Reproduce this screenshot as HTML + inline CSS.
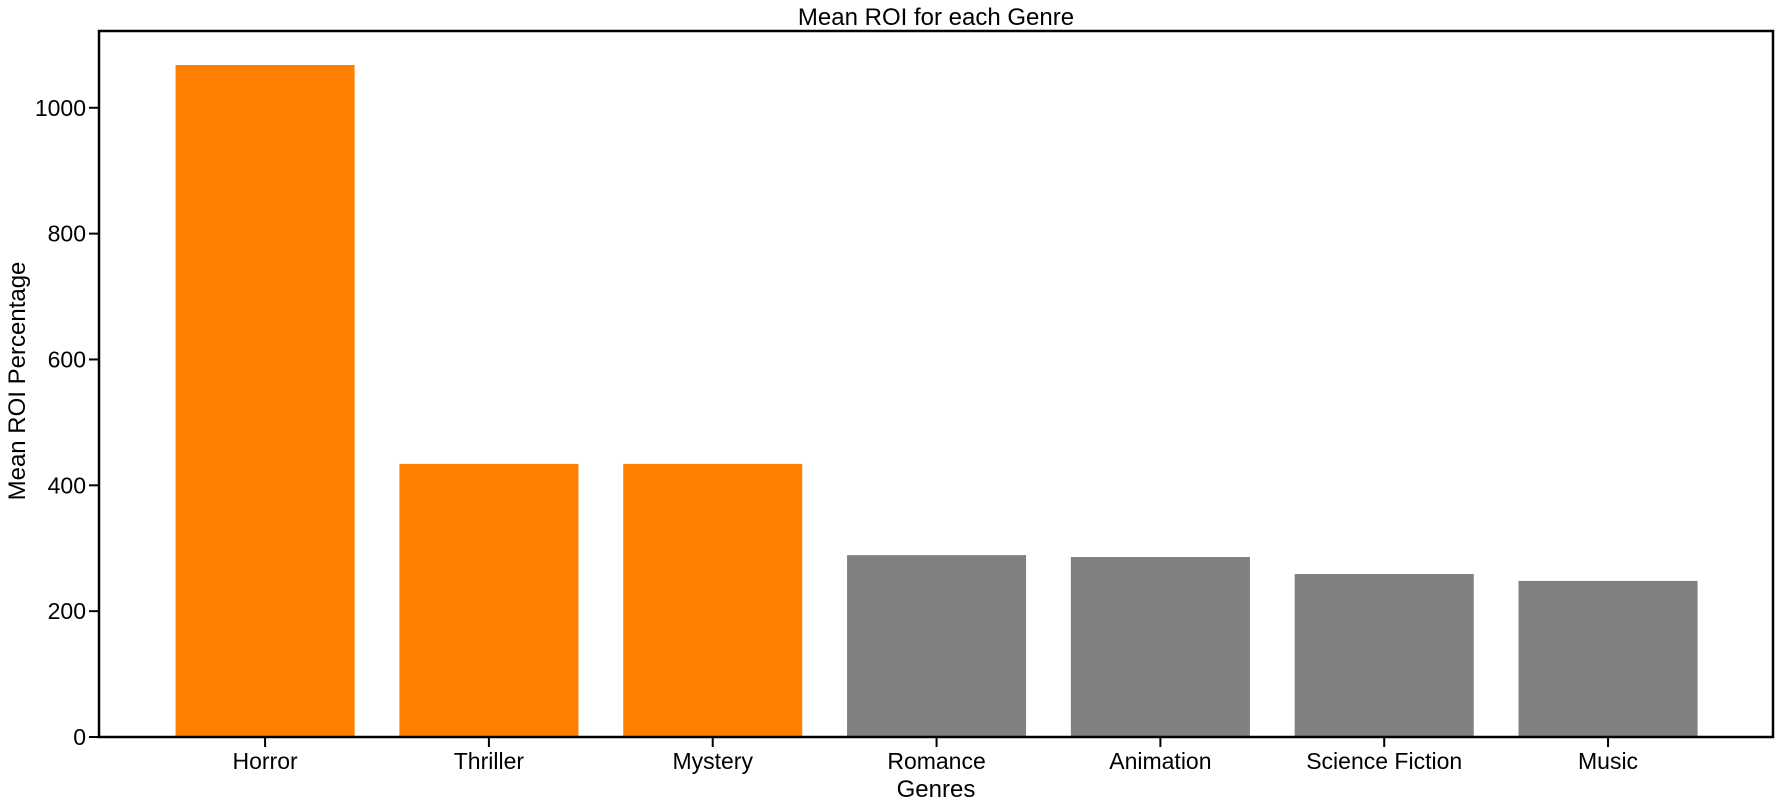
<!DOCTYPE html>
<html><head><meta charset="utf-8"><style>
html,body{margin:0;padding:0;background:#fff;}
svg{display:block;font-family:"Liberation Sans",Arial,sans-serif;}
</style></head><body>
<svg id="chart" width="1779" height="807" viewBox="0 0 1779 807">
<g id="bars"></g>
<g id="axes"></g>
</svg>
<script>
const categories = ["Horror","Thriller","Mystery","Romance","Animation","Science Fiction","Music"];
const values = [1068, 434, 434, 289, 286, 259, 248];
const highlighted = [true, true, true, false, false, false, false];
const yTicks = [0, 200, 400, 600, 800, 1000];

const NS = "http://www.w3.org/2000/svg";
const L = 99, R = 1773, T = 31, B = 737;
const xMin = -0.742, xMax = 6.737, yMin = 0, yMax = 1122;
const xs = v => L + (v - xMin) / (xMax - xMin) * (R - L);
const ys = v => B - (v - yMin) / (yMax - yMin) * (B - T);
function mk(tag, attrs, parent) {
  const e = document.createElementNS(NS, tag);
  for (const k in attrs) e.setAttribute(k, attrs[k]);
  parent.appendChild(e);
  return e;
}
const bars = document.getElementById("bars");
const axes = document.getElementById("axes");
const bw = 0.8;

categories.forEach((c, i) => {
  const x0 = xs(i - bw / 2), x1 = xs(i + bw / 2);
  const r = mk("rect", {x: x0, y: ys(values[i]), width: x1 - x0, height: ys(0) - ys(values[i]), fill: highlighted[i] ? "#ff8000" : "#808080"}, bars);
  
  
  const t = mk("line", {x1: xs(i), x2: xs(i), y1: B, y2: B + 10, stroke: "#000", "stroke-width": 2}, axes);
  
  
  const lb = mk("text", {x: xs(i), y: B + 32, "text-anchor": "middle", "font-size": 23, fill: "#000"}, axes);
  lb.textContent = c;
  
  
});

yTicks.forEach(v => {
  const t = mk("line", {x1: L - 10, x2: L, y1: ys(v), y2: ys(v), stroke: "#000", "stroke-width": 2}, axes);
  
  
  const lb = mk("text", {x: L - 13, y: ys(v) + 8, "text-anchor": "end", "font-size": 23, fill: "#000"}, axes);
  lb.textContent = v;
  
  
});

const frame = mk("rect", {x: L, y: T, width: R - L, height: B - T, fill: "none", stroke: "#000", "stroke-width": 2.5}, axes);



const title = mk("text", {x: (L + R) / 2, y: 25, "text-anchor": "middle", "font-size": 24, fill: "#000"}, axes);
title.textContent = "Mean ROI for each Genre";



const xt = mk("text", {x: (L + R) / 2, y: 797, "text-anchor": "middle", "font-size": 24, fill: "#000"}, axes);
xt.textContent = "Genres";



const yt = mk("text", {x: 0, y: 0, "text-anchor": "middle", "font-size": 24, fill: "#000", transform: "translate(25,381) rotate(-90)"}, axes);
yt.textContent = "Mean ROI Percentage";


</script>
</body></html>
